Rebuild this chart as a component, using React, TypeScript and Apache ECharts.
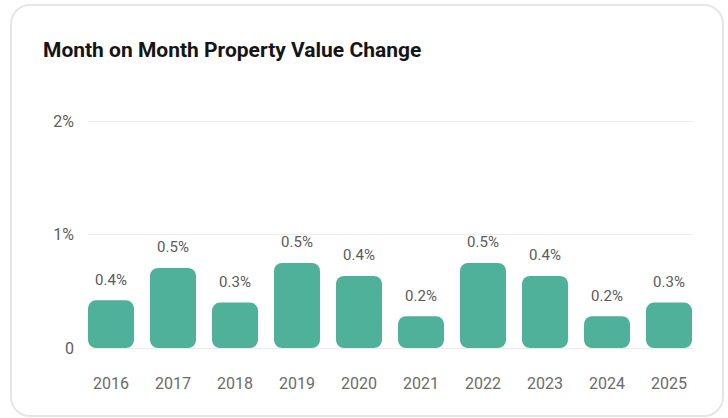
import React, { useEffect, useRef } from "react";
import * as echarts from "echarts";

const years = ["2016", "2017", "2018", "2019", "2020", "2021", "2022", "2023", "2024", "2025"];
const barValues = [0.42, 0.705, 0.4, 0.75, 0.635, 0.28, 0.75, 0.635, 0.28, 0.4];
const valueLabels = ["0.4%", "0.5%", "0.3%", "0.5%", "0.4%", "0.2%", "0.5%", "0.4%", "0.2%", "0.3%"];
const yTickLabels: Record<number, string> = { 0: "0", 1: "1%", 2: "2%" };

const TITLE = "Month on Month Property Value Change";
const FONT = "Roboto, 'Noto Sans', sans-serif";

export default function App() {
  const ref = useRef<HTMLDivElement>(null);

  useEffect(() => {
    if (!ref.current) return;
    const chart = echarts.init(ref.current, undefined, { renderer: "svg" });
    const top = 121;
    const bottom = 70;
    chart.setOption({
      animation: false,
      textStyle: { fontFamily: FONT },
      title: {
        text: TITLE,
        left: 38,
        top: 34,
        textStyle: { fontFamily: FONT, fontSize: 21, fontWeight: 700, color: "#151515" },
      },
      grid: [
        { left: 80, right: 28, top, bottom },
        { left: 88, right: 35, top, bottom },
      ],
      xAxis: [
        {
          type: "category",
          gridIndex: 0,
          data: years,
          axisLine: { show: false },
          axisTick: { show: false },
          axisLabel: { color: "#6b6b6b", fontSize: 16, margin: 27, fontFamily: FONT },
        },
        { type: "value", gridIndex: 1, show: false, min: 0, max: 1 },
      ],
      yAxis: [
        { type: "value", gridIndex: 0, min: 0, max: 2, interval: 1, show: false },
        {
          type: "value",
          gridIndex: 1,
          min: 0,
          max: 2,
          interval: 1,
          axisLine: { show: false },
          axisTick: { show: false },
          splitLine: { show: true, lineStyle: { color: "#ececec", width: 1 } },
          axisLabel: {
            color: "#5e5e5e",
            fontSize: 16,
            margin: 14,
            fontFamily: FONT,
            formatter: (v: number) => yTickLabels[v] ?? "",
          },
        },
      ],
      series: [
        {
          type: "bar",
          xAxisIndex: 0,
          yAxisIndex: 0,
          data: barValues,
          barWidth: 46,
          itemStyle: { color: "#50b19a", borderRadius: 8 },
          label: {
            show: true,
            position: "top",
            distance: 13,
            color: "#5a5a5a",
            fontSize: 15,
            fontFamily: FONT,
            formatter: (p: any) => valueLabels[p.dataIndex],
          },
        },
      ],
    });
    return () => chart.dispose();
  }, []);

  return (
    <div style={{ position: "fixed", left: 0, top: 0, width: 728, height: 418, background: "#fff", overflow: "hidden" }}>
      <div
        style={{
          position: "absolute",
          left: 10,
          top: 4,
          width: 714,
          height: 413,
          boxSizing: "border-box",
          border: "2px solid #e6e6e6",
          borderRadius: 20,
          background: "#fff",
        }}
      />
      <div ref={ref} style={{ position: "absolute", left: 0, top: 0, width: 728, height: 418 }} />
    </div>
  );
}
